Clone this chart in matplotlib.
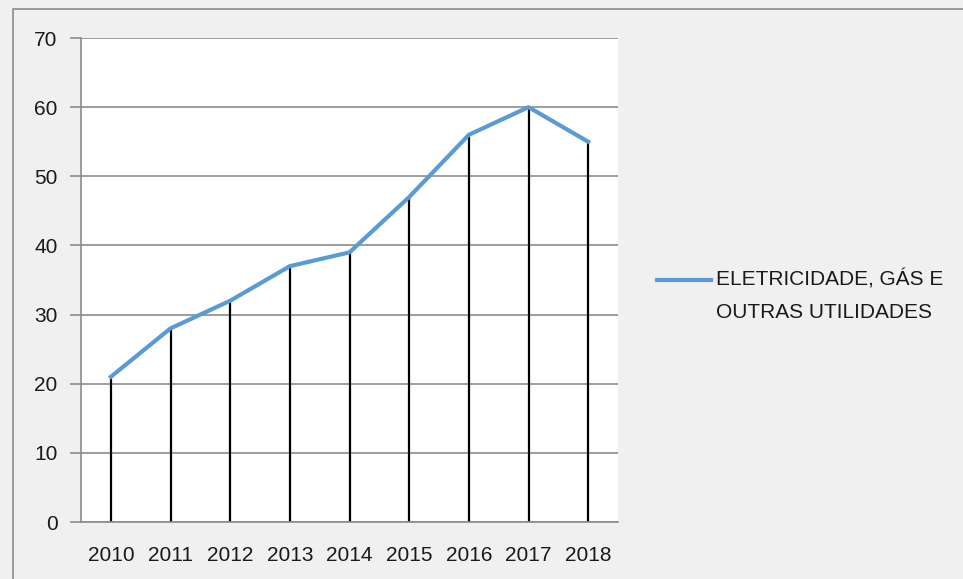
import matplotlib.pyplot as plt
from matplotlib.patches import Rectangle
from matplotlib.lines import Line2D

anos = ["2010", "2011", "2012", "2013", "2014", "2015", "2016", "2017", "2018"]
valores = [21, 28, 32, 37, 39, 47, 56, 60, 55]
serie = "ELETRICIDADE, GÁS E\nOUTRAS UTILIDADES"
cor_serie = "#5b9bd5"

fig = plt.figure(figsize=(9.63, 5.79), dpi=100, facecolor="#f0f0f0")
W, H = 963, 579

# moldura do gráfico (atrás dos eixos)
moldura = Rectangle((13 / W, -0.01), 1, 1 - 9 / H + 0.01, transform=fig.transFigure,
                    facecolor="#f0f0f0", edgecolor="#8c8c8c", linewidth=1.2, zorder=-10)
fig.patches.append(moldura)

ax = fig.add_axes([81 / W, (H - 522) / H, (618 - 81) / W, (522 - 38) / H])
ax.set_facecolor("white")

x = list(range(len(anos)))
ax.vlines(x, 0, valores, colors="black", linewidth=1.6, zorder=2)
ax.plot(x, valores, color=cor_serie, linewidth=3, zorder=3, label=serie)

ax.set_xlim(-0.5, len(anos) - 0.5)
ax.set_ylim(0, 70)
ax.set_yticks(range(0, 71, 10))
ax.set_xticks(x)
ax.set_xticklabels(anos)
ax.grid(axis="y", color="#8c8c8c", linewidth=1.2)
ax.set_axisbelow(True)

for lado in ["top", "right"]:
    ax.spines[lado].set_visible(False)
for lado in ["left", "bottom"]:
    ax.spines[lado].set_color("#8c8c8c")
    ax.spines[lado].set_linewidth(1.2)

ax.tick_params(axis="y", length=8, width=1.2, color="#8c8c8c", pad=9,
               labelsize=15, labelcolor="#1a1a1a")
ax.tick_params(axis="x", length=0, pad=17, labelsize=15, labelcolor="#1a1a1a")
for t in ax.get_xticklabels() + ax.get_yticklabels():
    t.set_family("Liberation Sans")

# legenda (marcador na altura da primeira linha)
fig.add_artist(Line2D([657 / W, 711 / W], [1 - 280 / H, 1 - 280 / H],
                      transform=fig.transFigure, color=cor_serie, linewidth=3))
fig.text(716 / W, 1 - 270 / H, serie, ha="left", va="top", fontsize=15,
         family="Liberation Sans", color="#1a1a1a", linespacing=1.85,
         transform=fig.transFigure)

fig.savefig("out.png", dpi=100, facecolor=fig.get_facecolor())
